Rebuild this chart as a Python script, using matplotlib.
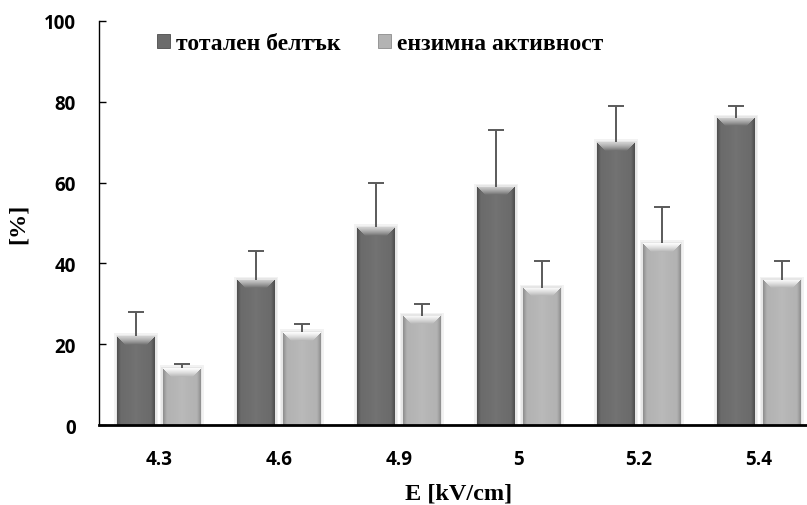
import numpy as np
import matplotlib
matplotlib.use("Agg")
import matplotlib.pyplot as plt
from matplotlib.patches import Patch, Rectangle

# ---- data ----
categories = ["4.3", "4.6", "4.9", "5", "5.2", "5.4"]
protein = [22, 36, 49, 59, 70, 76]
protein_err = [6, 7, 11, 14, 9, 3]
enzyme = [14, 23, 27, 34, 45, 36]
enzyme_err = [1, 2, 3, 6.7, 9, 4.5]
series_names = ["тотален белтък", "ензимна активност"]
y_ticks = [0, 20, 40, 60, 80, 100]

W, H, DPI = 807, 506, 100
fig = plt.figure(figsize=(W / DPI, H / DPI), dpi=DPI)
ax = fig.add_axes([99 / W, 1 - 426 / H, 720 / W, 404 / H])

x = np.arange(len(categories))
bw = 0.315
off = 0.19

# bar palettes: (edge, body, centre, highlight of the top facet)
dark_pal = dict(edge=(0.30, 0.30, 0.30), body=(0.42, 0.42, 0.42),
                centre=(0.45, 0.45, 0.45), top=(0.82, 0.82, 0.82))
light_pal = dict(edge=(0.55, 0.55, 0.55), body=(0.70, 0.70, 0.70),
                 centre=(0.73, 0.73, 0.73), top=(0.99, 0.99, 0.99))

bars_p = ax.bar(x - off, protein, bw, color=dark_pal["body"], zorder=2)
bars_e = ax.bar(x + off, enzyme, bw, color=light_pal["body"], zorder=2)

ax.set_xlim(-0.5, len(categories) - 0.5)
ax.set_ylim(0, 100)


def shade_bar(patch, pal):
    """Paint a bevelled, gradient face onto a bar patch."""
    x0, y0 = patch.get_x(), patch.get_y()
    w, h = patch.get_width(), patch.get_height()
    p0 = ax.transData.transform((x0, y0))
    p1 = ax.transData.transform((x0 + w, y0 + h))
    npx = max(int(round(p1[0] - p0[0])), 2)
    npy = max(int(round(p1[1] - p0[1])), 2)
    cols = np.arange(npx) + 0.5
    rows = np.arange(npy) + 0.5          # distance from top in px
    dl = cols[None, :]
    dr = (npx - cols)[None, :]
    dt = rows[:, None]
    dside = np.minimum(dl, dr)
    # horizontal profile
    t = np.clip(dside / 4.0, 0, 1)
    mid = 1 - np.abs(cols - npx / 2) / (npx / 2)
    edge = np.array(pal["edge"])
    body = np.array(pal["body"])
    centre = np.array(pal["centre"])
    base_row = body[None, :] + (centre - body)[None, :] * mid[:, None] ** 2
    base_row = edge[None, :] * (1 - t.T) + base_row * t.T
    img = np.repeat(base_row[None, :, :], npy, axis=0)
    # top chamfer facet
    bev = 9.0
    top = np.array(pal["top"])
    facet = (dt < bev) & (dt <= dside)
    s = np.clip(dt / bev, 0, 1)[..., None] ** 1.3
    top_col = top * (1 - s) + body * s
    img = np.where(facet[..., None], top_col, img)
    im = ax.imshow(img, extent=(x0, x0 + w, y0, y0 + h), origin="upper",
                   aspect="auto", interpolation="bilinear", zorder=2.1)
    im.set_clip_path(patch)
    # soft halo behind the bar
    for grow, shade in ((3.0, 0.95), (1.5, 0.90)):
        dx = grow / 120
        dy = grow / 4.04
        ax.add_patch(Rectangle((x0 - dx, y0), w + 2 * dx, h + dy,
                               facecolor=(shade, shade, shade), edgecolor="none",
                               zorder=1.5))


for b in bars_p:
    shade_bar(b, dark_pal)
for b in bars_e:
    shade_bar(b, light_pal)

# upper-only error bars (cap on the upper end only)
zeros = [0] * len(categories)
err_kw = dict(fmt="none", ecolor="#5a5a5a", elinewidth=1.4, capsize=5.5,
              capthick=1.4, zorder=3)
for xs, ys, es in ((x - off, protein, protein_err), (x + off, enzyme, enzyme_err)):
    eb = ax.errorbar(xs, ys, yerr=[zeros, es], **err_kw)
    caps = eb.lines[1]
    if len(caps) == 2:
        caps[0].set_visible(False)

# axes styling
for side in ("top", "right"):
    ax.spines[side].set_visible(False)
ax.spines["left"].set_linewidth(1.0)
ax.spines["bottom"].set_linewidth(2.0)
ax.spines["bottom"].set_zorder(4)

tick_font = dict(family="Open Sans", weight="bold", size=13.5)
ax.set_yticks(y_ticks)
ax.set_yticklabels([str(v) for v in y_ticks], **tick_font)
ax.set_xticks(x)
ax.set_xticklabels(categories, **tick_font)
ax.tick_params(axis="y", direction="in", length=5, width=1, pad=16.5)
ax.tick_params(axis="x", length=0, pad=17.5)

serif = dict(family="Liberation Serif", weight="bold", size=17.5)
ax.set_xlabel("E [kV/cm]", **serif)
ax.xaxis.label.set_va("center")
ax.xaxis.set_label_coords(0.5, (426 - 494) / 404)
ax.set_ylabel("[%]", **serif)
ax.yaxis.label.set_va("center")
ax.yaxis.set_label_coords((18 - 99) / 720, 0.5)

handles = [Patch(facecolor=dark_pal["body"], edgecolor=dark_pal["edge"], linewidth=0.6),
           Patch(facecolor=light_pal["body"], edgecolor=light_pal["edge"], linewidth=0.6)]
fig.legend(handles, series_names, loc="center left",
           bbox_to_anchor=(157 / W, 1 - 45 / H), bbox_transform=fig.transFigure,
           ncol=2, frameon=False, borderpad=0, borderaxespad=0,
           handlelength=0.55, handleheight=0.5, handletextpad=0.25,
           columnspacing=1.6, prop=dict(family="Liberation Serif", weight="bold", size=17))

fig.savefig("out.png", dpi=DPI)
